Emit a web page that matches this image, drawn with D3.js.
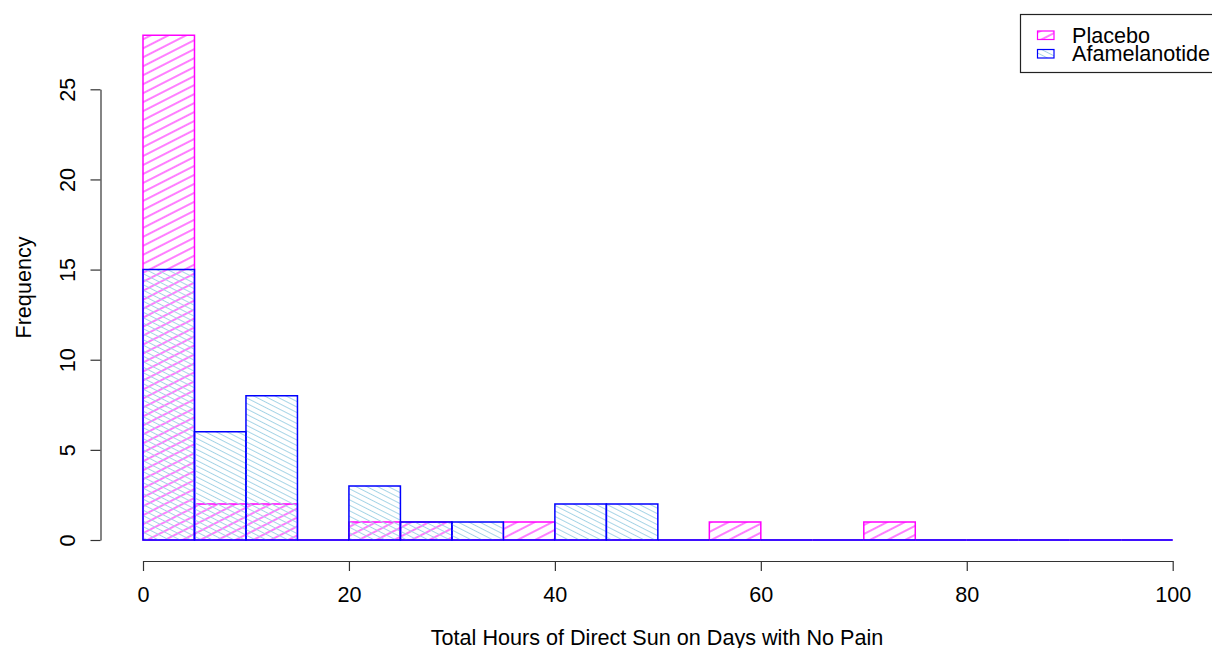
<!DOCTYPE html>
<html>
<head>
<meta charset="utf-8">
<script src="https://cdn.jsdelivr.net/npm/d3@7"></script>
<style>
  html, body { margin: 0; padding: 0; background: #fff; }
  svg { display: block; }
  text { font-family: "Liberation Sans", Arial, sans-serif; fill: #000; }
</style>
</head>
<body>
<svg id="chart" width="1212" height="648"></svg>
<script>
// Histogram bin edges (hours) and counts per bin for each treatment arm
const breaks = [0, 5, 10, 15, 20, 25, 30, 35, 40, 45, 50, 55, 60, 65, 70, 75, 80, 85, 90, 95, 100];
const placeboCounts = [28, 2, 2, 0, 1, 1, 0, 1, 0, 0, 0, 1, 0, 0, 1, 0, 0, 0, 0, 0];
const afamelanotideCounts = [15, 6, 8, 0, 3, 1, 1, 0, 2, 2, 0, 0, 0, 0, 0, 0, 0, 0, 0, 0];
const xTicks = [0, 20, 40, 60, 80, 100];
const yTicks = [0, 5, 10, 15, 20, 25];
const seriesNames = ["Placebo", "Afamelanotide"];

const svg = d3.select("#chart");
const FONT = 21.6;

const x = d3.scaleLinear().domain([0, 100]).range([143, 1172.7]);
const y = d3.scaleLinear().domain([0, 25]).range([540, 89.3]);

// Hatch patterns
const defs = svg.append("defs");
function hatch(id, angle, spacing, color, width) {
  const p = defs.append("pattern")
    .attr("id", id)
    .attr("patternUnits", "userSpaceOnUse")
    .attr("width", 40)
    .attr("height", spacing)
    .attr("patternTransform", `rotate(${angle})`);
  p.append("line")
    .attr("x1", -5).attr("x2", 45)
    .attr("y1", spacing / 2).attr("y2", spacing / 2)
    .attr("stroke", color)
    .attr("stroke-width", width);
}
hatch("hatchPlacebo", -27, 8, "#ff00ff", 1.2);
hatch("hatchAfam", 27, 4.9, "#a6d4e6", 1.1);

function bins(counts) {
  return counts.map((c, i) => ({ x0: breaks[i], x1: breaks[i + 1], n: c }));
}
function barPath(d) {
  const p = d3.path();
  p.moveTo(x(d.x0), y(0));
  p.lineTo(x(d.x1), y(0));
  p.lineTo(x(d.x1), y(d.n));
  p.lineTo(x(d.x0), y(d.n));
  p.closePath();
  return p.toString();
}

// Placebo bars
svg.append("g").selectAll("path")
  .data(bins(placeboCounts))
  .join("path")
  .attr("d", barPath)
  .attr("fill", "url(#hatchPlacebo)")
  .attr("stroke", "#ff00ff")
  .attr("stroke-width", 1.5);

// Afamelanotide bars drawn on top
svg.append("g").selectAll("path")
  .data(bins(afamelanotideCounts))
  .join("path")
  .attr("d", barPath)
  .attr("fill", "url(#hatchAfam)")
  .attr("stroke", "#0000ff")
  .attr("stroke-width", 1.5);

// X axis
const gx = svg.append("g")
  .attr("transform", "translate(0,561)")
  .call(d3.axisBottom(x).tickValues(xTicks).tickSize(10).tickSizeOuter(0).tickFormat(d3.format("d")));
gx.select(".domain").attr("stroke", "#333").attr("stroke-width", 1.2);
gx.selectAll(".tick line").attr("stroke", "#333").attr("stroke-width", 1.2);
gx.selectAll(".tick text")
  .attr("y", 40.5).attr("dy", null)
  .style("font-size", FONT + "px")
  .style("font-family", "'Liberation Sans', Arial, sans-serif")
  .attr("fill", "#000");

// Y axis with rotated tick labels
const gy = svg.append("g")
  .attr("transform", "translate(100.5,0)")
  .call(d3.axisLeft(y).tickValues(yTicks).tickSize(10).tickSizeOuter(0).tickFormat(d3.format("d")));
gy.select(".domain").attr("stroke", "#333").attr("stroke-width", 1.2);
gy.selectAll(".tick line").attr("stroke", "#333").attr("stroke-width", 1.2);
gy.selectAll(".tick text")
  .attr("transform", "rotate(-90)")
  .attr("x", 0).attr("y", -25.5).attr("dy", null)
  .attr("text-anchor", "middle")
  .style("font-size", FONT + "px")
  .style("font-family", "'Liberation Sans', Arial, sans-serif")
  .attr("fill", "#000");

// Axis titles
svg.append("text")
  .attr("x", 657).attr("y", 645)
  .attr("text-anchor", "middle")
  .style("font-size", FONT + "px")
  .text("Total Hours of Direct Sun on Days with No Pain");

svg.append("text")
  .attr("transform", "translate(31,287.5) rotate(-90)")
  .attr("text-anchor", "middle")
  .style("font-size", FONT + "px")
  .text("Frequency");

// Legend
const lg = svg.append("g");
lg.append("rect")
  .attr("x", 1020.5).attr("y", 14.5)
  .attr("width", 220).attr("height", 58)
  .attr("fill", "#fff")
  .attr("stroke", "#222").attr("stroke-width", 1.2);
const legendItems = [
  { name: seriesNames[0], fill: "url(#hatchPlacebo)", stroke: "#ff00ff" },
  { name: seriesNames[1], fill: "url(#hatchAfam)", stroke: "#0000ff" }
];
legendItems.forEach((it, i) => {
  const cy = 35.5 + i * 18.5;
  lg.append("rect")
    .attr("x", 1037.5).attr("y", cy - 4.5)
    .attr("width", 16.5).attr("height", 8.5)
    .attr("fill", it.fill)
    .attr("stroke", it.stroke).attr("stroke-width", 1.2);
  lg.append("text")
    .attr("x", 1072).attr("y", cy + 7)
    .style("font-size", FONT + "px")
    .text(it.name);
});
</script>
</body>
</html>
